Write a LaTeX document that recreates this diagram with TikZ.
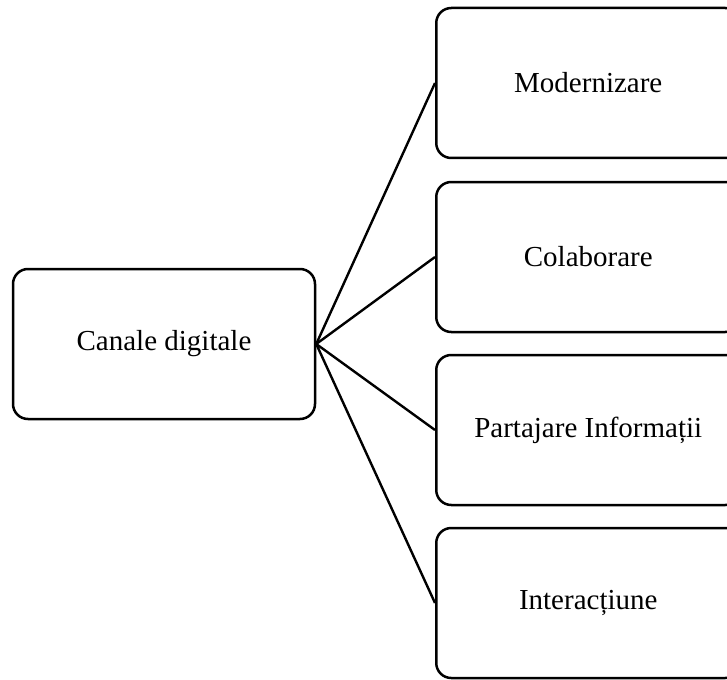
\documentclass[tikz,border=0pt]{standalone}
\usepackage{fontspec}
\setmainfont{Liberation Serif}
\begin{document}
\begin{tikzpicture}[x=1pt,y=-1pt,
  box/.style={draw=black, line width=2.5pt, rounded corners=15pt, fill=white,
    minimum width=304pt, minimum height=150pt, inner sep=0pt,
    font=\fontsize{29}{34}\selectfont},
  link/.style={draw=black, line width=2.4pt}]
  \useasboundingbox (0,0) rectangle (727,679);
  \clip (0,0) rectangle (727,679);
  % root
  \node[box, minimum width=302pt] (root) at (164,344) {Canale digitale};
  % branches
  \node[box, anchor=west] (m) at (435,83) {Modernizare};
  \node[box, anchor=west] (c) at (435,257) {Colaborare};
  \node[box, anchor=west] (p) at (435,430) {Partajare Informații};
  \node[box, anchor=west] (i) at (435,603) {Interacțiune};
  % connectors
  \foreach \t in {m,c,p,i}
    \draw[link] (root.east) -- (\t.west);
\end{tikzpicture}
\end{document}
